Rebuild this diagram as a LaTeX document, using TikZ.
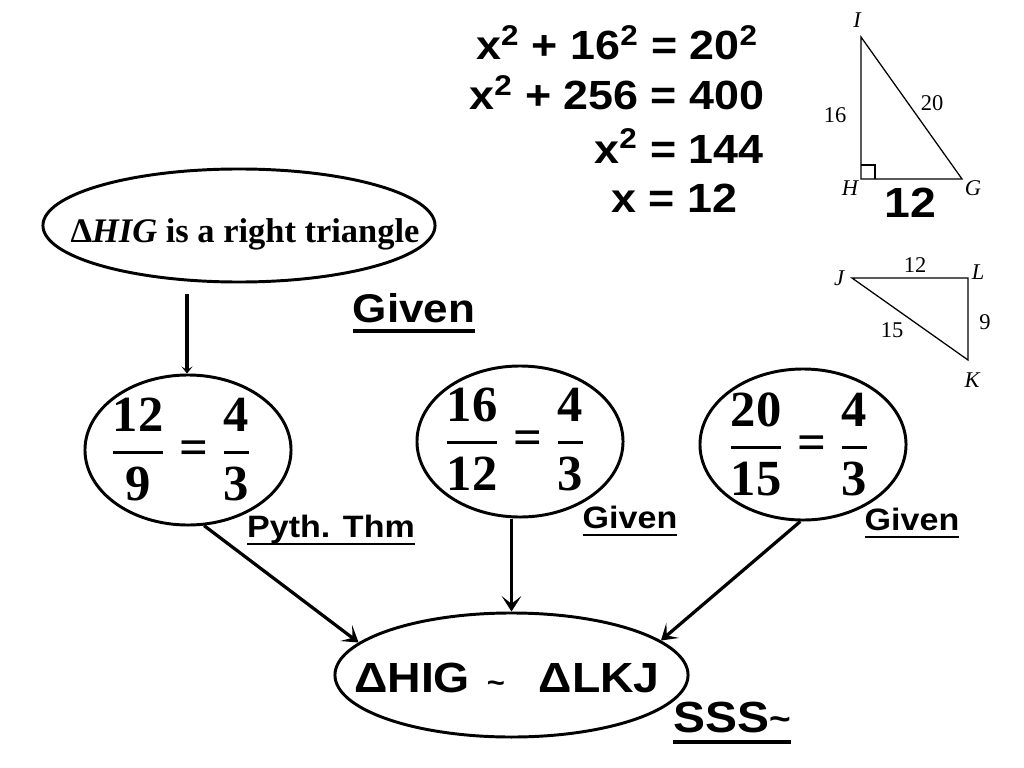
\RequirePackage{fix-cm}
\documentclass[tikz,border=0pt]{standalone}
\usepackage{fontspec}
\setmainfont{Liberation Serif}
\setsansfont[FakeStretch=1.1]{Liberation Sans}
\usepackage{amsmath}
\usepackage{tikz}
\usetikzlibrary{shapes, arrows.meta, positioning, calc}

\newcommand{\ulin}[1]{\setbox0\hbox{#1}\rlap{\rule[-0.27em]{\wd0}{0.09em}}\box0}
\newcommand{\bfrac}[2]{\genfrac{}{}{2pt}{0}{\hbox{#1}}{\hbox{#2}}}
\newcommand{\eqsign}{\mathrel{\vcenter{\hbox{=}}}}

\tikzset{
  oval/.style={ellipse, draw, line width=2.1pt, inner sep=0pt},
  arr/.style={line width=2.3pt, -{Stealth[length=11pt, width=14pt, inset=5.5pt]}},
  tri/.style={line width=0.9pt},
  lbl/.style={font=\sffamily\bfseries\fontsize{22}{26}\selectfont, anchor=base},
  eqn/.style={font=\sffamily\bfseries\fontsize{29}{34}\selectfont, anchor=base},
  ratio/.style={font=\bfseries\fontsize{36}{43}\selectfont},
  vtx/.style={font=\itshape\fontsize{16}{19}\selectfont},
  side/.style={font=\fontsize{16}{19}\selectfont},
}

\begin{document}
\begin{tikzpicture}[x=0.025cm, y=-0.025cm]
  \useasboundingbox (0,0) rectangle (1024,768);

  % Pythagorean working
  \node[eqn] (eq1) at (617,60) {x\textsuperscript{2} + 16\textsuperscript{2} = 20\textsuperscript{2}};
  \node[eqn] (eq2) at (617,110) {x\textsuperscript{2} + 256 = 400};
  \node[eqn] (eq3) at (679,163) {x\textsuperscript{2} = 144};
  \node[eqn] (eq4) at (674,212) {x = 12};

  % Triangle HIG
  \coordinate (I) at (861,37);
  \coordinate (H) at (861,179);
  \coordinate (G) at (962,179);
  \draw[tri] (I) -- (H) -- (G) -- cycle;
  \draw[tri] (H) ++(0,-14) -- ++(14,0) -- ++(0,14);
  \node[vtx] (lI) at (857,20) {I};
  \node[vtx] (lH) at (850,188) {H};
  \node[vtx] (lG) at (973,188) {G};
  \node[side] (sIH) at (835,115) {16};
  \node[side] (sIG) at (932,103) {20};
  \node[font=\sffamily\bfseries\fontsize{30}{36}\selectfont, anchor=base] (sHG) at (910,217) {12};

  % Triangle JKL
  \coordinate (J) at (852,278);
  \coordinate (L) at (968,278);
  \coordinate (K) at (968,360);
  \draw[tri] (J) -- (L) -- (K) -- cycle;
  \node[vtx] (lJ) at (839,278) {J};
  \node[vtx] (lL) at (978,272) {L};
  \node[vtx] (lK) at (972,380) {K};
  \node[side] (sJL) at (915,265) {12};
  \node[side] (sLK) at (985,322) {9};
  \node[side] (sJK) at (892,330) {15};

  % Ovals
  \node[oval, minimum width=9.8cm, minimum height=2.825cm] (hig) at (239,225.5) {};
  \node[font=\bfseries\fontsize{24.5}{29}\selectfont, anchor=base] (higtxt) at (245,242) {Δ\textit{HIG} is a right triangle};

  \node[oval, minimum width=5.15cm, minimum height=3.75cm] (r1) at (188,450) {};
  \node[ratio] (r1txt) at (181,449) {$\bfrac{12}{9} \eqsign \bfrac{4}{3}$};

  \node[oval, minimum width=5.15cm, minimum height=3.775cm] (r2) at (520,441.5) {};
  \node[ratio] (r2txt) at (515,439) {$\bfrac{16}{12} \eqsign \bfrac{4}{3}$};

  \node[oval, minimum width=5.15cm, minimum height=3.775cm] (r3) at (803,444.5) {};
  \node[ratio] (r3txt) at (799,444) {$\bfrac{20}{15} \eqsign \bfrac{4}{3}$};

  \node[oval, minimum width=8.825cm, minimum height=3.1cm] (sim) at (511.5,675) {};
  \node[font=\sffamily\bfseries\fontsize{30}{36}\selectfont, anchor=base] (simtxt) at (507,692)
    {ΔHIG\hspace{12pt}{\fontsize{20}{24}\selectfont\textasciitilde}\hspace{24pt}ΔLKJ};

  % Reasons
  \node[lbl, font=\sffamily\bfseries\fontsize{28.5}{34}\selectfont] (given0) at (414,322) {\ulin{Given}};
  \node[lbl] (pyth) at (331,537) {\ulin{Pyth. Thm}};
  \node[lbl] (given2) at (630,528) {\ulin{Given}};
  \node[lbl] (given3) at (912,530) {\ulin{Given}};
  \node[lbl, font=\sffamily\bfseries\fontsize{31}{36}\selectfont] (sss) at (732,732)
    {\ulin{SSS{\fontsize{24}{28}\selectfont\raisebox{1pt}{\textasciitilde}}}};

  % Arrows
  \coordinate (a0) at (187,294);
  \draw[arr, -{Stealth[length=5pt, width=8pt, inset=2.5pt]}] (a0) -- (r1.north -| a0);
  \draw[arr] (r1.-78) -- (sim.168);
  \draw[arr] (r2.south -| sim.north) -- (sim.north);
  \draw[arr] (r3.-92) -- (sim.13);
\end{tikzpicture}
\end{document}
